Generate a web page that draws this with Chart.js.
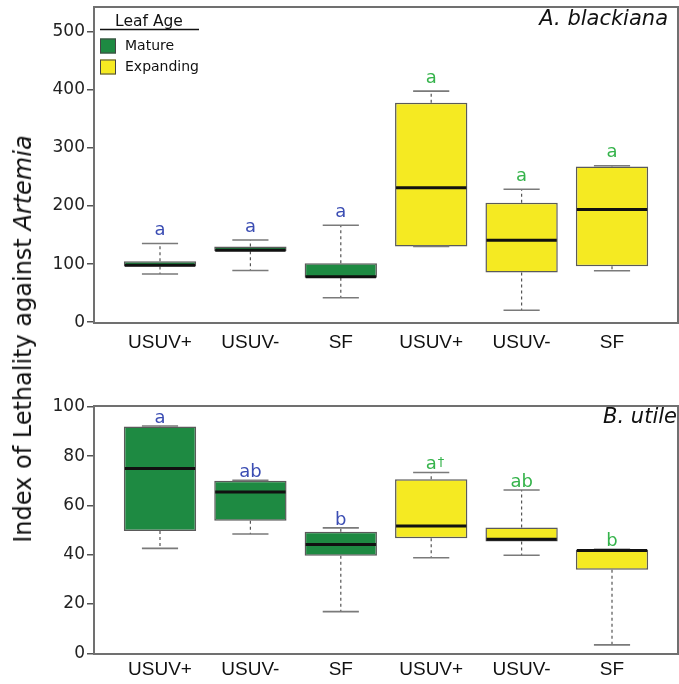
<!DOCTYPE html>
<html>
<head>
<meta charset="utf-8">
<script src="https://cdn.jsdelivr.net/npm/chart.js@4.4.0/dist/chart.umd.min.js"></script>
<style>
  body { margin: 0; background: #fff; width: 679px; height: 684px; position: relative; overflow: hidden; }
  canvas { position: absolute; left: 0; }
  #topChart { top: 0; }
  #bottomChart { top: 350px; }
  #yTitle {
    position: absolute; left: 23px; top: 339px;
    transform: translate(-50%, -50%) rotate(-90deg);
    white-space: nowrap; font: 24px "DejaVu Sans"; color: #111;
  }
</style>
</head>
<body>
<canvas id="topChart" width="679" height="350"></canvas>
<canvas id="bottomChart" width="679" height="334"></canvas>
<div id="yTitle">Index of Lethality against <i>Artemia</i></div>
<script>
// categories, left three are mature leaves, right three expanding
const categories = ["USUV+", "USUV-", "SF", "USUV+", "USUV-", "SF"];
const leafAges = ["Mature", "Expanding"];
const leafAgeOf = [0, 0, 0, 1, 1, 1];

// A. blackiana
const blackianaLow = [83, 89, 42, 130.5, 20.5, 88.5];
const blackianaQ1 = [96, 122, 76.5, 130.5, 85.6, 96.5];
const blackianaMedian = [98, 123.8, 78, 231.5, 141, 194];
const blackianaQ3 = [105, 130.5, 101.5, 378, 205.7, 268];
const blackianaHigh = [135.6, 141.4, 167, 398, 229, 269.5];
const blackianaLetters = ["a", "a", "a", "a", "a", "a"];
const blackianaTicks = [0, 100, 200, 300, 400, 500];

// B. utile
const utileLow = [42.6, 48.4, 16.9, 38.8, 39.8, 3.4];
const utileQ1 = [49.6, 53.8, 39.6, 46.7, 45.4, 33.9];
const utileMedian = [75, 65.5, 44.2, 51.7, 46.3, 41.7];
const utileQ3 = [92.1, 70, 49.3, 70.7, 51.1, 42];
const utileHigh = [92.3, 70.2, 50.9, 73.4, 66.3, 42.2];
const utileLetters = ["a", "ab", "b", "a†", "ab", "b"];
const utileTicks = [0, 20, 40, 60, 80, 100];

const fillColors = ["#1e8a42", "#f5ea22"];
const letterColors = ["#3b4db3", "#35b34b"];

const boxExtras = {
  id: "boxExtras",
  afterDatasetsDraw(chart, args, opts) {
    const { ctx, scales } = chart;
    const y = scales.y;
    const s = opts.stats;
    chart.data.datasets.forEach((ds, di) => {
      const meta = chart.getDatasetMeta(di);
      meta.data.forEach((bar, j) => {
        const i = ds.data[j].x;
        const half = bar.width / 2;
        const cx = bar.x;
        const yHigh = y.getPixelForValue(s.high[i]);
        const yLow = y.getPixelForValue(s.low[i]);
        ctx.save();
        // whiskers
        ctx.strokeStyle = "#555";
        ctx.lineWidth = 1.2;
        ctx.setLineDash([3, 3]);
        ctx.beginPath();
        ctx.moveTo(cx, y.getPixelForValue(s.q3[i]));
        ctx.lineTo(cx, yHigh);
        ctx.moveTo(cx, y.getPixelForValue(s.q1[i]));
        ctx.lineTo(cx, yLow);
        ctx.stroke();
        ctx.setLineDash([]);
        ctx.strokeStyle = "#7a7a7a";
        ctx.lineWidth = 1.6;
        ctx.beginPath();
        ctx.moveTo(cx - half / 2, yHigh);
        ctx.lineTo(cx + half / 2, yHigh);
        ctx.moveTo(cx - half / 2, yLow);
        ctx.lineTo(cx + half / 2, yLow);
        ctx.stroke();
        // median
        const yMed = y.getPixelForValue(s.median[i]);
        ctx.strokeStyle = "#111";
        ctx.lineWidth = 3;
        ctx.beginPath();
        ctx.moveTo(cx - half + 1, yMed);
        ctx.lineTo(cx + half - 1, yMed);
        ctx.stroke();
        // significance letter
        const txt = s.letters[i];
        const base = txt.replace("†", "");
        const by = yHigh - opts.letterGap;
        ctx.fillStyle = letterColors[leafAgeOf[i]];
        ctx.font = '18px "DejaVu Sans"';
        ctx.textAlign = "center";
        ctx.textBaseline = "alphabetic";
        ctx.fillText(base, cx, by);
        if (txt.includes("†")) {
          const w = ctx.measureText(base).width;
          ctx.font = '13px "DejaVu Sans"';
          ctx.textAlign = "left";
          ctx.fillText("†", cx + w / 2 + 1, by - 3);
        }
        ctx.restore();
      });
    });
  },
  afterDraw(chart, args, opts) {
    const { ctx, chartArea: a } = chart;
    ctx.save();
    ctx.strokeStyle = "#707070";
    ctx.lineWidth = 2;
    ctx.strokeRect(a.left, a.top, a.right - a.left, a.bottom - a.top);
    // species name
    ctx.fillStyle = "#111";
    ctx.font = 'italic 21px "DejaVu Sans"';
    ctx.textAlign = "right";
    ctx.textBaseline = "middle";
    ctx.fillText(opts.species, a.right - opts.speciesInset, a.top + opts.speciesDown);
    // legend
    if (opts.legend) {
      const lx = a.left + 6;
      ctx.font = '15.5px "DejaVu Sans"';
      ctx.textAlign = "center";
      ctx.fillText("Leaf Age", lx + 49, a.top + 14.5);
      ctx.strokeStyle = "#111";
      ctx.lineWidth = 1.5;
      ctx.beginPath();
      ctx.moveTo(lx, a.top + 22.5);
      ctx.lineTo(lx + 99, a.top + 22.5);
      ctx.stroke();
      ctx.font = '14px "DejaVu Sans"';
      ctx.textAlign = "left";
      chart.data.datasets.forEach((ds, k) => {
        const ty = a.top + 31.5 + k * 21;
        ctx.fillStyle = ds.backgroundColor;
        ctx.fillRect(lx, ty, 16, 15);
        ctx.strokeStyle = "#444";
        ctx.lineWidth = 1;
        ctx.strokeRect(lx + 0.5, ty + 0.5, 15, 14);
        ctx.fillStyle = "#111";
        ctx.fillText(ds.label, lx + 25, ty + 8);
      });
    }
    ctx.restore();
  },
};

function makePanel(id, p) {
  const datasets = leafAges.map((age, g) => ({
    label: age,
    data: categories
      .map((c, i) => ({ x: i, y: [p.stats.q1[i], p.stats.q3[i]] }))
      .filter((d) => leafAgeOf[d.x] === g),
    backgroundColor: fillColors[g],
    borderColor: "#5a5a5a",
    borderWidth: 1.5,
    borderSkipped: false,
    grouped: false,
    barPercentage: 0.8,
    categoryPercentage: 1,
  }));

  return new Chart(document.getElementById(id), {
    type: "bar",
    data: { datasets },
    plugins: [boxExtras],
    options: {
      responsive: false,
      animation: false,
      devicePixelRatio: 1,
      layout: { padding: { left: 0, right: 1, top: p.padTop, bottom: 0 } },
      plugins: {
        legend: { display: false },
        tooltip: { enabled: false },
        boxExtras: {
          stats: p.stats,
          letterGap: p.letterGap,
          species: p.species,
          speciesInset: p.speciesInset,
          speciesDown: p.speciesDown,
          legend: p.legend,
        },
      },
      scales: {
        x: {
          type: "linear",
          offset: false,
          min: -0.73,
          max: 5.73,
          afterBuildTicks: (scale) => {
            scale.ticks = categories.map((c, i) => ({ value: i }));
          },
          afterFit: (scale) => {
            scale.height = p.xHeight;
            scale.paddingLeft = 0;
            scale.paddingRight = 0;
          },
          grid: { display: false, drawTicks: false },
          border: { display: false },
          ticks: {
            autoSkip: false,
            maxRotation: 0,
            padding: p.xPad,
            color: "#111",
            font: { family: "Liberation Sans", size: 19 },
            callback: (v) => categories[v],
          },
        },
        y: {
          min: p.yMin,
          max: p.yMax,
          afterBuildTicks: (scale) => {
            scale.ticks = p.ticks.map((v) => ({ value: v }));
          },
          afterFit: (scale) => {
            scale.width = 94;
            scale.paddingTop = 0;
            scale.paddingBottom = 0;
          },
          grid: { drawOnChartArea: false, drawTicks: true, tickLength: 7, color: "#555", lineWidth: 1.5 },
          border: { display: false },
          ticks: {
            padding: 2,
            color: "#222",
            font: { family: "DejaVu Sans", size: 17 },
          },
        },
      },
    },
  });
}

makePanel("topChart", {
  stats: {
    low: blackianaLow, q1: blackianaQ1, median: blackianaMedian,
    q3: blackianaQ3, high: blackianaHigh, letters: blackianaLetters,
  },
  ticks: blackianaTicks,
  yMin: -1.5,
  yMax: 543,
  padTop: 7,
  xHeight: 27,
  xPad: 8,
  letterGap: 8.5,
  species: "A. blackiana",
  speciesInset: 10,
  speciesDown: 12.5,
  legend: true,
});

makePanel("bottomChart", {
  stats: {
    low: utileLow, q1: utileQ1, median: utileMedian,
    q3: utileQ3, high: utileHigh, letters: utileLetters,
  },
  ticks: utileTicks,
  yMin: -0.3,
  yMax: 100.4,
  padTop: 56,
  xHeight: 30,
  xPad: 4,
  letterGap: 3,
  species: "B. utile",
  speciesInset: 1,
  speciesDown: 11.5,
  legend: false,
});
</script>
</body>
</html>
